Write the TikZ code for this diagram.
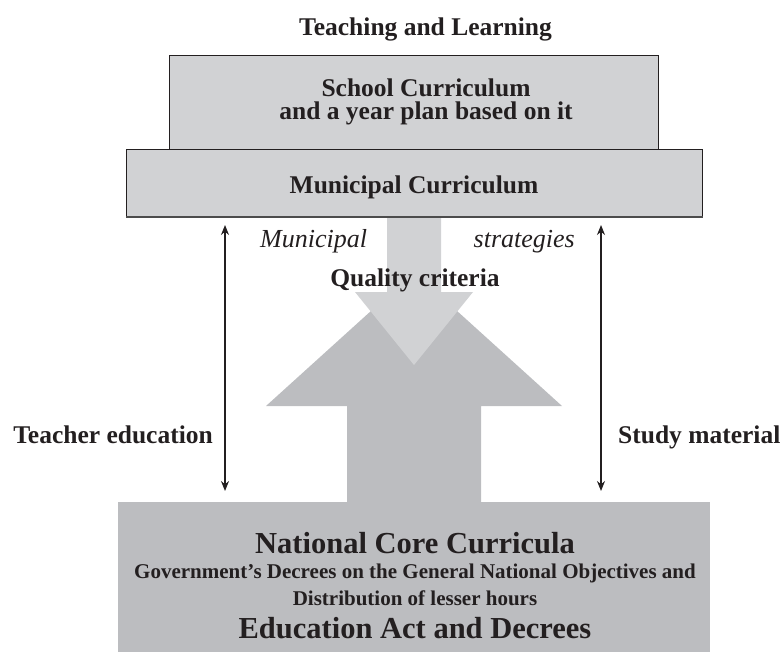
\documentclass[tikz,border=0pt]{standalone}
\usepackage{fontspec}
\setmainfont{Liberation Serif}
\usetikzlibrary{arrows.meta}
\definecolor{lightgr}{HTML}{D1D2D4}
\definecolor{darkgr}{HTML}{BCBDC0}
\definecolor{inkc}{HTML}{231F20}
\tikzset{
  boxshape/.style={rectangle, fill=lightgr, draw=inkc, line width=1pt, inner sep=0pt, anchor=north west},
  medtext/.style={font=\bfseries\fontsize{25.5}{28}\selectfont, text=inkc, inner sep=0pt, anchor=base},
  itltext/.style={font=\itshape\fontsize{26}{28}\selectfont, text=inkc, inner sep=0pt},
  bigtext/.style={font=\bfseries\fontsize{30.5}{32}\selectfont, text=inkc, inner sep=0pt, anchor=base},
  smalltext/.style={font=\bfseries\fontsize{21}{24}\selectfont, text=inkc, inner sep=0pt, anchor=base},
  dblarrow/.style={{Stealth[length=10pt,width=8pt]}-{Stealth[length=10pt,width=8pt]}, line width=1.3pt, draw=inkc}
}
\begin{document}
\begin{tikzpicture}[x=1pt,y=-1pt]
\useasboundingbox (0,0) rectangle (783,656);
% big dark up arrow and base box
\fill[darkgr] (347,503) -- (347,406) -- (266,406) -- (414,272) -- (562,406) -- (481,406) -- (481,503) -- cycle;
\node[rectangle, fill=darkgr, inner sep=0pt, anchor=north west, minimum width=592pt, minimum height=150pt] (base) at (118,502) {};
% light down arrow
\fill[lightgr] (387,214) -- (387,292) -- (355,292) -- (414,365) -- (473,292) -- (441,292) -- (441,214) -- cycle;
% boxes
\node[boxshape, minimum width=489pt, minimum height=94pt] (school) at (169,55) {};
\node[boxshape, minimum width=576pt, minimum height=67pt] (muni) at (126,149) {};
\draw[line width=2pt, draw=black!70] (muni.south west) -- (muni.south east);
% texts
\node[medtext] (teach) at (425.5,35) {Teaching and Learning};
\node[medtext] (sc1) at (426,96) {School Curriculum};
\node[medtext] (sc2) at (426,119) {and a year plan based on it};
\node[medtext] (mc) at (414,193) {Municipal Curriculum};
\node[itltext, anchor=base west] (mun) at (260,247) {Municipal};
\node[itltext, anchor=base east] (strat) at (575,247) {strategies};
\node[medtext] (qual) at (415,286) {Quality criteria};
\node[medtext, anchor=base east] (teached) at (213,443) {Teacher education};
\node[medtext, anchor=base west] (study) at (618,443) {Study material};
\node[bigtext] (ncc) at (415,553) {National Core Curricula};
\node[smalltext] (gov) at (415,578) {Government’s Decrees on the General National Objectives and};
\node[smalltext] (dist) at (415,605) {Distribution of lesser hours};
\node[bigtext] (edu) at (415,638) {Education Act and Decrees};
% double arrows
\coordinate (lt) at (225,225);
\coordinate (lb) at (225,491);
\coordinate (rt) at (601,225);
\coordinate (rb) at (601,491);
\draw[dblarrow] (lt) -- (lb);
\draw[dblarrow] (rt) -- (rb);
\end{tikzpicture}
\end{document}
